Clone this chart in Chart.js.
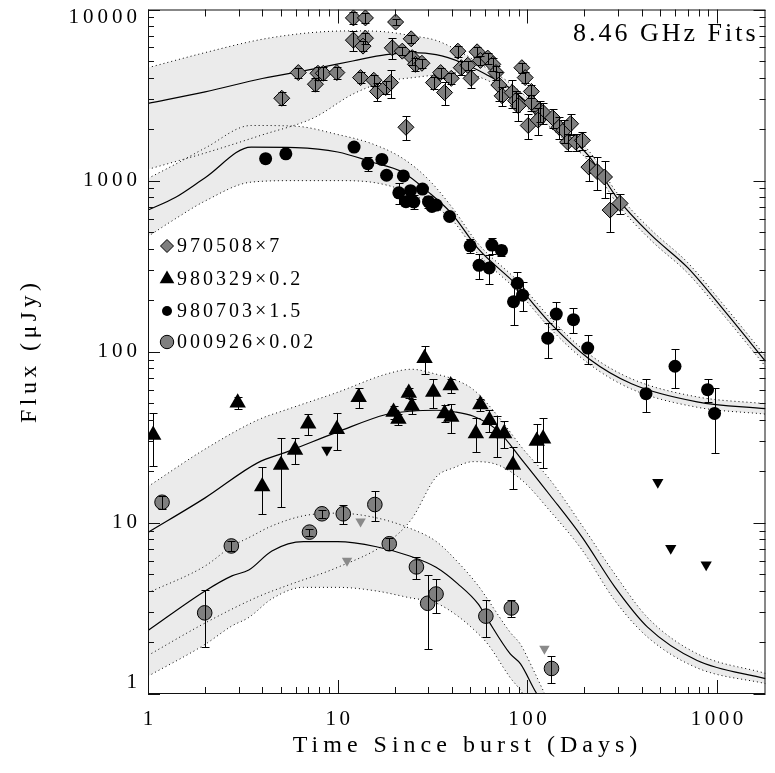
<!DOCTYPE html>
<html>
<head>
<meta charset="utf-8">
<script src="https://cdn.jsdelivr.net/npm/chart.js@4/dist/chart.umd.min.js"></script>
<style>
  html, body { margin:0; padding:0; background:#fff; }
  canvas { display:block; }
</style>
</head>
<body>
<canvas id="chart" width="775" height="773"></canvas>
<script>
// 8.46 GHz light curves + model fits (log-log)
const xTickLabels = [1, 10, 100, 1000];
const yTickLabels = [1, 10, 100, 1000, 10000];
const legendLabels = ['970508\u00d77', '980329\u00d70.2', '980703\u00d71.5', '000926\u00d70.02'];
const panelTitle = '8.46 GHz Fits';

// 970508 x7 (grey diamonds)
const days970508 = [5.07, 6.2, 7.63, 7.87, 8.4, 9.9, 12.1, 14.0, 12.1, 14.0, 13.6, 13.2, 15.5, 16.2, 17.9, 19.0, 19.4, 20.2, 22.9, 21.9, 24.4, 24.7, 25.7, 27.8, 32.0, 34.9, 36.6, 39.7, 43.0, 44.8, 48.5, 50.5, 54.3, 56.5, 61.8, 65.7, 68.3, 70.7, 73.6, 83.2, 86.7, 93.5, 97.4, 89.5, 101, 105, 105, 116, 121, 114, 136, 147, 156, 169, 163, 180, 195, 211, 233, 255, 273, 308];
const flux970508 = [3030, 4280, 3660, 4240, 4240, 4280, 8930, 8930, 6620, 6800, 6110, 4000, 3860, 3320, 3500, 3740, 5970, 8450, 2050, 5710, 6740, 5230, 4780, 4850, 3740, 4280, 3270, 3960, 5710, 4570, 4720, 3960, 5660, 5040, 5200, 4780, 4280, 3620, 3130, 3270, 2930, 4570, 4000, 2740, 2100, 3320, 2860, 2560, 2500, 2260, 2330, 2050, 1970, 2150, 1680, 1680, 1720, 1200, 1130, 1050, 673, 736];
const err970508 = [250, 300, 300, 350, 350, 350, 700, 600, 900, 500, 400, 300, 300, 400, 300, 700, 800, 300, 320, 300, 400, 500, 400, 300, 300, 300, 500, 300, 400, 400, 300, 500, 400, 300, 400, 400, 400, 700, 400, 600, 400, 300, 300, 500, 350, 300, 300, 350, 350, 400, 300, 300, 300, 300, 200, 200, 200, 200, 250, 260, 170, 100];

// 980329 x0.2 (black triangles, downward = upper limits)
const days980329 = [1.065, 2.97, 4.0, 5.03, 5.96, 6.99, 9.9, 12.9, 19.7, 20.9, 24.6, 23.7, 28.7, 31.9, 36.6, 39.4, 39.7, 56.5, 63.1, 53.5, 68.9, 75.4, 83.9, 112, 121];
const flux980329 = [32.6, 50.3, 16.3, 21.8, 26.7, 38.0, 35.3, 54.3, 44.5, 40.4, 48.2, 57.4, 91.6, 58.1, 43.6, 63.5, 41.5, 49.1, 39.8, 33.3, 33.3, 33.3, 21.8, 30.1, 31.0];
const err980329 = [11, 4, 5, 9.5, 4.5, 5.5, 8.5, 7.5, 4, 3, 5, 4, 17, 11, 5, 6, 8, 4, 6, 7.5, 9, 6, 6, 7.5, 10];
const limDays980329 = [8.77, 487, 570, 876];
const limFlux980329 = [26.7, 17.3, 7.1, 5.7];

// 980703 x1.5 (black circles)
const days980703 = [4.17, 5.33, 12.2, 14.4, 17.1, 18.1, 22.2, 21.0, 24.2, 22.9, 25.2, 28.0, 30.1, 31.4, 33.1, 38.9, 49.9, 65.0, 73.0, 55.6, 62.9, 88.6, 84.5, 94.3, 142, 175, 128, 208, 422, 600, 891, 970];
const flux980703 = [1343, 1435, 1570, 1256, 1330, 1075, 1065, 849, 873, 753, 750, 893, 753, 707, 720, 617, 416, 420, 391, 320, 309, 251, 196, 214, 166, 154, 120, 105, 56.9, 82.3, 60, 43.6];
const err980703 = [0, 0, 0, 115, 0, 0, 0, 115, 0, 0, 70, 0, 60, 0, 0, 0, 40, 45, 30, 55, 60, 40, 52, 40, 30, 25, 28, 20, 12.5, 21, 9, 18];

// 000926 x0.02 (grey circles, grey downward triangles = upper limits)
const days000926 = [1.186, 1.99, 2.75, 7.10, 8.26, 10.7, 15.7, 18.7, 26.0, 29.8, 33.0, 60.4, 82.3, 134];
const flux000926 = [13.2, 2.98, 7.33, 8.83, 11.3, 11.3, 12.8, 7.55, 5.53, 3.39, 3.84, 2.85, 3.18, 1.41];
const err000926 = [1.2, 1.1, 0.5, 0.4, 0.6, 1.4, 2.6, 0.6, 0.8, 1.57, 0.85, 0.7, 0.35, 0.25];
const limDays000926 = [11.2, 13.2, 123];
const limFlux000926 = [6.0, 10.2, 1.84];

// model curves: best fit and the upper / lower envelope
const fitDays970508 = [1, 2, 4, 7.5, 12, 18, 25, 33, 45, 60, 80, 110, 150, 210, 300, 450, 700, 1100, 1800];
const fit970508   = [2830, 3300, 3950, 4500, 5000, 5450, 5600, 5450, 4900, 4200, 3500, 2600, 1950, 1400, 780, 480, 310, 172, 88];
const fitHi970508 = [4570, 5600, 6700, 7350, 7500, 7400, 7000, 6600, 5600, 4600, 3750, 2780, 2090, 1500, 835, 515, 332, 184, 94];
const fitLo970508 = [1164, 1450, 1850, 2330, 3200, 3800, 4000, 4150, 4300, 3900, 3280, 2420, 1810, 1300, 725, 446, 288, 160, 82];

const fitDays980703 = [1, 1.4, 2, 3.5, 6, 10, 15, 22, 30, 40, 55, 88, 136, 211, 354, 784, 1800];
const fit980703   = [673, 800, 1040, 1570, 1560, 1470, 1290, 1120, 860, 640, 400, 245, 142, 91, 65, 51, 46.5];
const fitHi980703 = [1030, 1250, 1550, 2100, 2080, 1860, 1650, 1350, 1020, 700, 428, 262, 152, 97, 69.5, 54.5, 49.7];
const fitLo980703 = [472, 600, 760, 980, 1000, 1000, 980, 880, 740, 590, 372, 228, 132, 85, 60.5, 47.4, 43.2];

const fitDays980329 = [1, 2, 3.8, 5.4, 10, 18, 24.5, 33, 41, 52, 70, 95, 131, 195, 290, 430, 785, 1800];
const fit980329   = [8.8, 14, 22.5, 26, 34, 43, 45, 45.5, 44.6, 42, 34.5, 22.9, 14.6, 8.2, 4.2, 2.46, 1.57, 1.23];
const fitHi980329 = [16.3, 27, 40, 46, 58, 74, 79, 74, 69, 60, 42, 27, 18, 9.6, 5.0, 2.8, 1.72, 1.32];
const fitLo980329 = [1.68, 2.6, 3.7, 4.3, 5.5, 7.6, 10.5, 18.5, 21, 22.8, 21.8, 17.5, 11.8, 6.9, 3.5, 2.15, 1.42, 1.15];

const fitDays000926 = [1, 2, 2.77, 3.4, 4.5, 6.6, 10, 16, 24, 33, 43, 55, 62, 81, 92, 107, 121, 140];
const fit000926   = [2.35, 4.0, 4.9, 5.3, 6.85, 7.76, 7.76, 7.25, 6.4, 5.5, 4.4, 3.36, 2.7, 1.72, 1.5, 1.1, 0.85, 0.6];
const fitHi000926 = [3.9, 5.6, 7.3, 8.2, 9.6, 11.0, 11.4, 10.7, 9.3, 7.8, 5.9, 4.3, 3.55, 2.3, 1.95, 1.4, 1.05, 0.75];
const fitLo000926 = [1.27, 1.95, 2.5, 2.8, 3.6, 4.2, 4.2, 4.0, 3.65, 3.4, 2.85, 2.25, 1.95, 1.25, 1.05, 0.8, 0.65, 0.5];

const GREY = '#7f7f7f';
const BAND = '#ebebeb';
const FONT = '"Liberation Serif", "Times New Roman", serif';

const pts = (xs, ys) => xs.map((x, i) => ({ x, y: ys[i] }));

const datasets = [];

// data points (drawn last)
datasets.push({ data: pts(days970508, flux970508), errors: err970508, showLine: false, order: 0,
  pointStyle: 'rectRot', pointRadius: 8, pointBackgroundColor: GREY, pointBorderColor: '#000', pointBorderWidth: 1 });
datasets.push({ data: pts(days980329, flux980329), errors: err980329, showLine: false, order: 0,
  pointStyle: 'triangle', pointRadius: 9.5, pointBackgroundColor: '#000', pointBorderColor: '#000', pointBorderWidth: 0 });
datasets.push({ data: pts(limDays980329, limFlux980329), showLine: false, order: 0,
  pointStyle: 'triangle', pointRotation: 180, pointRadius: 6.5, pointBackgroundColor: '#000', pointBorderWidth: 0 });
datasets.push({ data: pts(days980703, flux980703), errors: err980703, showLine: false, order: 0,
  pointStyle: 'circle', pointRadius: 6.5, pointBackgroundColor: '#000', pointBorderColor: '#000', pointBorderWidth: 0 });
datasets.push({ data: pts(days000926, flux000926), errors: err000926, showLine: false, order: 0,
  pointStyle: 'circle', pointRadius: 7.3, pointBackgroundColor: GREY, pointBorderColor: '#000', pointBorderWidth: 1 });
datasets.push({ data: pts(limDays000926, limFlux000926), showLine: false, order: 0,
  pointStyle: 'triangle', pointRotation: 180, pointRadius: 6, pointBackgroundColor: '#8a8a8a', pointBorderWidth: 0 });

// model fits with shaded envelopes
const models = [
  [fitDays970508, fit970508, fitHi970508, fitLo970508],
  [fitDays980703, fit980703, fitHi980703, fitLo980703],
  [fitDays980329, fit980329, fitHi980329, fitLo980329],
  [fitDays000926, fit000926, fitHi000926, fitLo000926]
];
const lineBase = { pointRadius: 0, cubicInterpolationMode: 'monotone', borderColor: '#000' };
models.forEach(([xs, fit, hi, lo]) => {
  datasets.push({ ...lineBase, data: pts(xs, fit), borderWidth: 1.2, fill: false, order: 1 });
  datasets.push({ ...lineBase, data: pts(xs, lo), borderWidth: 1, borderDash: [1, 3], fill: false, order: 2 });
  datasets.push({ ...lineBase, data: pts(xs, hi), borderWidth: 1, borderDash: [1, 3], fill: '-1',
    backgroundColor: BAND, order: 2 });
});

function logTicks(min, max) {
  const out = [];
  for (let d = Math.floor(Math.log10(min)); d <= Math.ceil(Math.log10(max)); d++) {
    for (let m = 1; m <= 9; m++) {
      const v = m * Math.pow(10, d);
      if (v >= min * 0.999 && v <= max * 1.001) out.push({ v, major: m === 1 });
    }
  }
  return out;
}

function spacedText(ctx, text, x, y, ls, align) {
  ctx.letterSpacing = ls + 'px';
  ctx.textAlign = align;
  const shift = align === 'center' ? ls / 2 : align === 'right' ? ls : 0;
  ctx.fillText(text, x + shift, y);
  ctx.letterSpacing = '0px';
}

const frame = {
  id: 'frame',
  afterDatasetsDraw(chart) {
    // error bars on top of the markers
    const { ctx, chartArea: a, scales: { y } } = chart;
    ctx.save();
    ctx.beginPath(); ctx.rect(a.left, a.top, a.right - a.left, a.bottom - a.top); ctx.clip();
    ctx.strokeStyle = '#000'; ctx.lineWidth = 1;
    chart.data.datasets.forEach((ds, i) => {
      if (!ds.errors) return;
      chart.getDatasetMeta(i).data.forEach((pt, j) => {
        const e = ds.errors[j];
        if (!e) return;
        const v = ds.data[j].y;
        const y1 = Math.round(y.getPixelForValue(v + e)) + 0.5;
        const y2 = Math.round(y.getPixelForValue(Math.max(v - e, 0.01))) + 0.5;
        const px = Math.round(pt.x) + 0.5;
        ctx.beginPath();
        ctx.moveTo(px, y1); ctx.lineTo(px, y2);
        ctx.moveTo(px - 4, y1); ctx.lineTo(px + 4, y1);
        ctx.moveTo(px - 4, y2); ctx.lineTo(px + 4, y2);
        ctx.stroke();
      });
    });
    ctx.restore();
  },
  afterDraw(chart) {
    const { ctx, chartArea: a, scales: { x, y } } = chart;
    ctx.save();
    ctx.strokeStyle = '#111'; ctx.lineWidth = 1;
    ctx.strokeRect(a.left + 0.5, a.top + 0.5, a.right - a.left - 1, a.bottom - a.top - 1);

    // inward ticks on all four sides
    ctx.beginPath();
    logTicks(x.min, x.max).forEach(t => {
      const px = Math.round(x.getPixelForValue(t.v)) + 0.5;
      const len = t.major ? 14 : 7;
      ctx.moveTo(px, a.bottom); ctx.lineTo(px, a.bottom - len);
      ctx.moveTo(px, a.top); ctx.lineTo(px, a.top + len);
    });
    logTicks(y.min, y.max).forEach(t => {
      const py = Math.round(y.getPixelForValue(t.v)) + 0.5;
      const len = t.major ? 12 : 6;
      ctx.moveTo(a.left, py); ctx.lineTo(a.left + len, py);
      ctx.moveTo(a.right, py); ctx.lineTo(a.right - len, py);
    });
    ctx.stroke();

    // tick labels
    ctx.fillStyle = '#000';
    ctx.textBaseline = 'middle';
    ctx.font = '21px ' + FONT;
    xTickLabels.forEach(v => spacedText(ctx, String(v), x.getPixelForValue(v), 719, 3.5, 'center'));
    yTickLabels.forEach(v => {
      const py = Math.min(Math.max(y.getPixelForValue(v), a.top + 8), a.bottom - 12);
      spacedText(ctx, String(v), 137, py, 4, 'right');
    });

    // axis titles
    ctx.font = '24px ' + FONT;
    spacedText(ctx, 'Time Since burst (Days)', 465, 746, 5, 'center');
    ctx.save();
    ctx.translate(30, 353);
    ctx.rotate(-Math.PI / 2);
    spacedText(ctx, 'Flux (\u03bcJy)', 0, 0, 4.4, 'center');
    ctx.restore();

    // panel label
    ctx.font = '26px ' + FONT;
    spacedText(ctx, panelTitle, 573, 34, 3, 'left');

    // legend
    const marks = [
      { pointStyle: 'rectRot', radius: 6.5, fill: GREY, border: 1 },
      { pointStyle: 'triangle', radius: 8.5, fill: '#000', border: 0 },
      { pointStyle: 'circle', radius: 5, fill: '#000', border: 0 },
      { pointStyle: 'circle', radius: 6.7, fill: GREY, border: 1 }
    ];
    const rowY = [246, 279, 311, 342];
    ctx.font = '20px ' + FONT;
    legendLabels.forEach((label, i) => {
      const m = marks[i];
      ctx.fillStyle = m.fill; ctx.strokeStyle = '#000'; ctx.lineWidth = 1;
      Chart.helpers.drawPoint(ctx, { pointStyle: m.pointStyle, radius: m.radius, rotation: 0, borderWidth: m.border }, 167, rowY[i]);
      ctx.fillStyle = '#000';
      spacedText(ctx, label, 177, rowY[i] + 1, 3, 'left');
    });
    ctx.restore();
  }
};

new Chart(document.getElementById('chart'), {
  type: 'line',
  data: { datasets },
  options: {
    responsive: false,
    animation: false,
    layout: { padding: { left: 148, top: 5, right: 0, bottom: 79 } },
    scales: {
      x: { type: 'logarithmic', min: 1, max: 1800, display: false },
      y: { type: 'logarithmic', min: 1, max: 10000, display: false }
    },
    plugins: {
      legend: { display: false },
      tooltip: { enabled: false },
      filler: { drawTime: 'beforeDatasetsDraw' }
    }
  },
  plugins: [frame]
});
</script>
</body>
</html>
